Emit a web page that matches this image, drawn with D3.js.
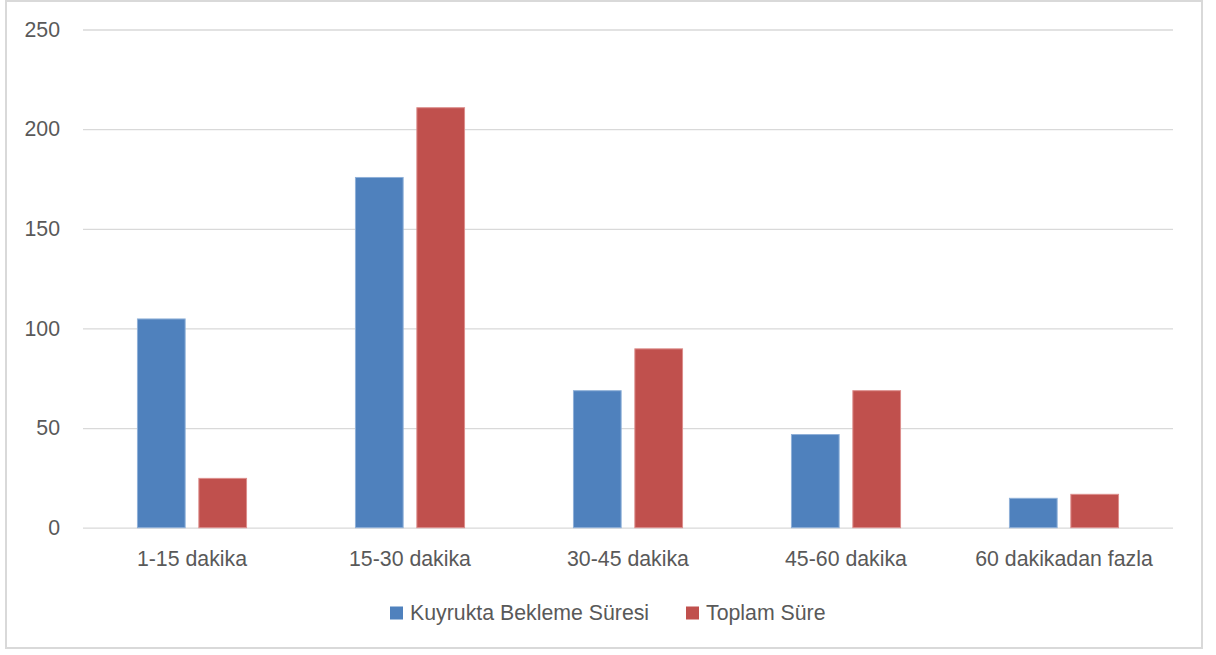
<!DOCTYPE html>
<html>
<head>
<meta charset="utf-8">
<script src="https://cdn.jsdelivr.net/npm/d3@7.9.0/dist/d3.min.js"></script>
<style>
  body { margin: 0; background: #fff; }
  svg text { font-family: "Liberation Sans", Arial, sans-serif; fill: #595959; }
</style>
</head>
<body>
<svg id="chart" width="1216" height="655"></svg>
<script>
// data
const categories = ['1-15 dakika', '15-30 dakika', '30-45 dakika', '45-60 dakika', '60 dakikadan fazla'];
const seriesNames = ['Kuyrukta Bekleme Süresi', 'Toplam Süre'];
const bekleme = [105, 176, 69, 47, 15];
const toplam = [25, 211, 90, 69, 17];
const yTicks = [0, 50, 100, 150, 200, 250];

const colors = ['#4F81BD', '#C0504D'];
const strokes = ['#8fb0d8', '#dc8e8c'];
const fontSize = 21.3;

const svg = d3.select('#chart');

// outer frame
svg.append('rect')
  .attr('x', 6).attr('y', 1)
  .attr('width', 1196).attr('height', 647)
  .attr('fill', '#fff')
  .attr('stroke', '#d9d9d9')
  .attr('stroke-width', 2);

const plotL = 83, plotR = 1173, plotT = 29.5, plotB = 527.7;

const y = d3.scaleLinear().domain([0, 250]).range([plotB, plotT]);
const x0 = d3.scaleBand().domain(categories).range([plotL, plotR])
  .paddingInner(0.495).paddingOuter(0.2475);
const x1 = d3.scaleBand().domain(seriesNames).range([0, x0.bandwidth()])
  .paddingInner(0.207);

// gridlines
const yAxis = d3.axisLeft(y).tickValues(yTicks).tickSize(-(plotR - plotL)).tickPadding(23);
const g = svg.append('g').attr('transform', `translate(${plotL},0)`).call(yAxis);
g.select('.domain').remove();
g.selectAll('.tick line').attr('stroke', '#d9d9d9').attr('stroke-width', 1.3);
g.selectAll('.tick text').attr('font-size', fontSize).style('fill', '#595959')
  .style('font-family', '"Liberation Sans", Arial, sans-serif');

// bars
const rows = categories.map((c, i) => ({ cat: c, vals: [bekleme[i], toplam[i]] }));
const groups = svg.append('g').selectAll('g').data(rows).join('g')
  .attr('transform', d => `translate(${x0(d.cat)},0)`);
groups.selectAll('rect')
  .data(d => d.vals.map((v, k) => ({ k, v })))
  .join('rect')
  .attr('x', d => x1(seriesNames[d.k]) + 0.5)
  .attr('y', d => y(d.v) + 0.5)
  .attr('width', x1.bandwidth() - 1)
  .attr('height', d => plotB - y(d.v) - 0.5)
  .attr('fill', d => colors[d.k])
  .attr('stroke', d => strokes[d.k])
  .attr('stroke-width', 1);

// category labels
svg.append('g').selectAll('text').data(categories).join('text')
  .attr('x', d => x0(d) + x0.bandwidth() / 2)
  .attr('y', 566)
  .attr('text-anchor', 'middle')
  .attr('font-size', fontSize)
  .text(d => d);

// legend
const legendX = [390, 686];
const leg = svg.append('g').selectAll('g').data(seriesNames).join('g')
  .attr('transform', (d, i) => `translate(${legendX[i]},606.5)`);
leg.append('rect')
  .attr('width', 13).attr('height', 13)
  .attr('fill', (d, i) => colors[i]);
leg.append('text')
  .attr('x', 20).attr('y', 13.5)
  .attr('font-size', fontSize)
  .text(d => d);
</script>
</body>
</html>
